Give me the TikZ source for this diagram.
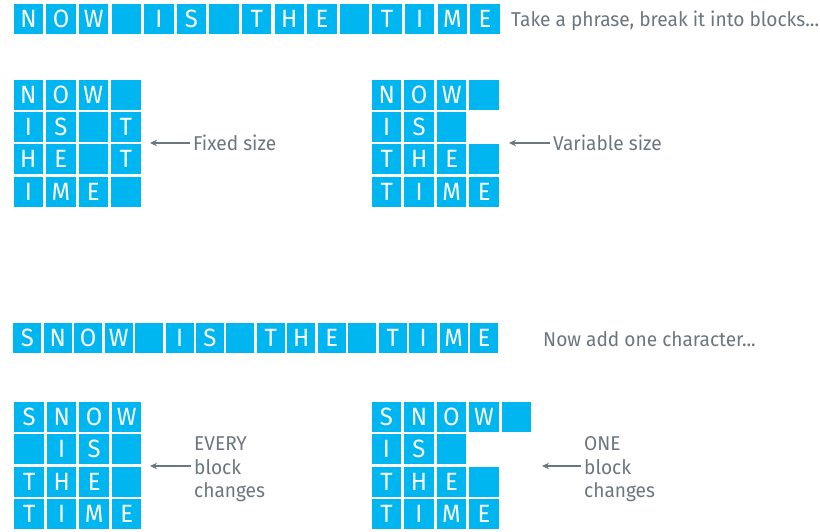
\documentclass[tikz,border=0pt]{standalone}
\usepackage{fontspec}
\setmainfont{Fira Sans}[FakeStretch=0.955]
\usetikzlibrary{arrows.meta}
\definecolor{cellblue}{HTML}{00B6F0}
\definecolor{txtgray}{HTML}{6A7680}
% #1 name, #2 x centre of first cell, #3 y centre, #4 pitch, #5 cell width, #6 letters
\newcommand\cellrow[6]{%
  \foreach \c [count=\i] in {#6} {%
    \node[cell, minimum width=#5pt] (#1-\i) at ({#2+(\i-1)*#4},#3) {\c};}}
\tikzset{
  cell/.style={rectangle, fill=cellblue, text=white, minimum height=30pt,
    inner sep=0pt, font=\fontsize{25}{25}\selectfont},
  lab/.style={text=txtgray, inner sep=0pt, font=\fontsize{20}{23.4}\selectfont, align=left},
  pointer/.style={draw=txtgray, line width=2pt, -{Stealth[length=7pt,width=6.5pt]}, shorten <=3pt},
}
\begin{document}
\begin{tikzpicture}[x=1pt,y=-1pt]
\useasboundingbox (0,0) rectangle (820,531);
% ---- top phrase
\cellrow{p}{28.5}{19}{32.6}{29.5}{N,O,W,{},I,S,{},T,H,E,{},T,I,M,E}
\node[lab, anchor=base west] (ptext) at (511,26.7) {Take a phrase, break it into blocks...};
% ---- fixed size grid
\cellrow{fa}{28.3}{94.5}{32.5}{29.5}{N,O,W,{}}
\cellrow{fb}{28.3}{126.9}{32.5}{29.5}{I,S,{},T}
\cellrow{fc}{28.3}{159.3}{32.5}{29.5}{H,E,{},T}
\cellrow{fd}{28.3}{191.7}{32.5}{29.5}{I,M,E,{}}
\node[lab, anchor=base west] (flab) at (193,150) {Fixed size};
\coordinate (ftip) at (150,143);
\draw[pointer] (flab.west |- ftip) -- (ftip);
% ---- variable size grid
\cellrow{va}{386.7}{94.5}{32.5}{29.5}{N,O,W,{}}
\cellrow{vb}{386.7}{126.9}{32.5}{29.5}{I,S,{}}
\cellrow{vc}{386.7}{159.3}{32.5}{29.5}{T,H,E,{}}
\cellrow{vd}{386.7}{191.7}{32.5}{29.5}{T,I,M,E}
\node[lab, anchor=base west] (vlab) at (553,150) {Variable size};
\coordinate (vtip) at (509,143);
\draw[pointer] (vlab.west |- vtip) -- (vtip);
% ---- second phrase
\cellrow{q}{27.3}{338}{30.45}{28}{S,N,O,W,{},I,S,{},T,H,E,{},T,I,M,E}
\node[lab, anchor=base west] (qtext) at (543,346.7) {Now add one character...};
% ---- every block changes
\cellrow{ea}{29.2}{416.7}{32.5}{29.5}{S,N,O,W}
\cellrow{eb}{29.2}{449.1}{32.5}{29.5}{{},I,S,{}}
\cellrow{ec}{29.2}{481.5}{32.5}{29.5}{T,H,E,{}}
\cellrow{ed}{29.2}{513.9}{32.5}{29.5}{T,I,M,E}
\node[lab, anchor=north west] (elab) at (194,436.7) {EVERY\\block\\changes};
\coordinate (etip) at (150,466);
\draw[pointer] (elab.west |- etip) -- (etip);
% ---- one block changes
\cellrow{oa}{386.5}{416.7}{32.5}{29.5}{S,N,O,W,{}}
\cellrow{ob}{386.5}{449.1}{32.5}{29.5}{I,S,{}}
\cellrow{oc}{386.5}{481.5}{32.5}{29.5}{T,H,E,{}}
\cellrow{od}{386.5}{513.9}{32.5}{29.5}{T,I,M,E}
\node[lab, anchor=north west] (olab) at (584,436.7) {ONE\\block\\changes};
\coordinate (otip) at (542,466);
\draw[pointer] (olab.west |- otip) -- (otip);
\end{tikzpicture}
\end{document}
